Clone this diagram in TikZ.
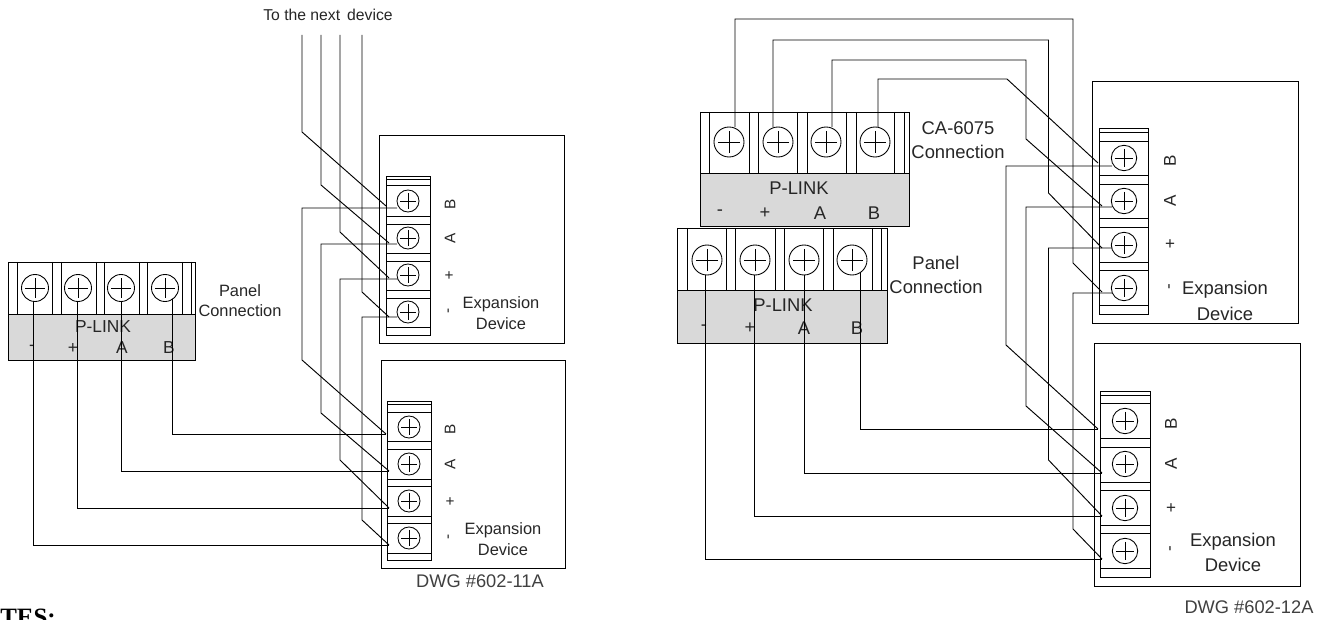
\documentclass[tikz,border=0pt]{standalone}
\usepackage{fontspec}
\setmainfont{Liberation Sans}
\newfontfamily\notesfont{Liberation Serif}
\tikzset{
  wire/.style={line width=0.7pt,line join=miter},
  outline/.style={draw,line width=0.7pt},
  thin line/.style={line width=0.65pt},
  lbl/.style={inner sep=0pt,font=\fontsize{12.3}{14}\selectfont,text=black!85},
  lbig/.style={inner sep=0pt,font=\fontsize{13.8}{16}\selectfont,text=black!85},
  lmid/.style={inner sep=0pt,font=\fontsize{13}{15}\selectfont,text=black!85},
  side/.style={inner sep=0pt,rotate=90,font=\fontsize{11.5}{13}\selectfont,text=black!85},
  sidebig/.style={inner sep=0pt,rotate=90,font=\fontsize{12.8}{14}\selectfont,text=black!85},
  dwg/.style={inner sep=0pt,font=\fontsize{13.7}{16}\selectfont,text=black!75},
}
% name, x, y, radius
\newcommand{\myscrew}[4]{%
  \node[circle,draw,line width=0.65pt,fill=white,inner sep=0pt,minimum size=#4*1.5pt] (#1) at (#2,#3) {};
  \draw[line width=0.55pt] (#2-#4*0.72,#3) -- (#2+#4*0.72,#3) (#2,#3-#4*0.72) -- (#2,#3+#4*0.72);}
\begin{document}
\begin{tikzpicture}[x=0.75pt,y=-0.75pt]
\useasboundingbox (0,0) rectangle (1328,620);
\clip (0,0) rectangle (1328,620);

% ---------- connector blocks ----------
% left panel
\draw[outline] (8,262) rectangle (195,314);
\fill[black!15] (8,314) rectangle (195,360);
\draw[outline] (8,314) rectangle (195,360);
\foreach \a/\b in {8/17,52/61,96/104,139/147,182/191}
  \draw[thin line] (\a,262) -- (\a,314) (\b,262) -- (\b,314);
\myscrew{pa}{35}{288}{13.5}\myscrew{pb}{78}{288}{13.5}\myscrew{pc}{121}{288}{13.5}\myscrew{pd}{165}{288}{13.5}
\node[lmid] (lplink) at (103,327) {P-LINK};
\node[lmid] (lm) at (32,348) {-};
\node[lmid] (lp) at (73,348) {+};
\node[lmid] (la) at (122,348) {A};
\node[lmid] (lb) at (169,348) {B};
\node[lbl] (lpanel1) at (240,291) {Panel};
\node[lbl] (lpanel2) at (240,311) {Connection};

% CA-6075
\draw[outline] (700,112) rectangle (909,173);
\fill[black!15] (700,173) rectangle (909,226);
\draw[outline] (700,173) rectangle (909,226);
\foreach \a/\b in {700/709,749/758,797/807,846/856,894/904}
  \draw[thin line] (\a,112) -- (\a,173) (\b,112) -- (\b,173);
\myscrew{ca}{729}{142}{15}\myscrew{cb}{778}{142}{15}\myscrew{cc}{826}{142}{15}\myscrew{cd}{875}{142}{15}
\node[lbig] (cplink) at (799,188) {P-LINK};
\node[lbig] (cm) at (720,213) {-};
\node[lbig] (cp) at (765,213) {+};
\node[lbig] (ca2) at (820,213) {A};
\node[lbig] (cb2) at (874,213) {B};
\node[lbig] (clab1) at (958,128) {CA-6075};
\node[lbig] (clab2) at (958,152) {Connection};

% right panel
\draw[outline] (677,228) rectangle (887,290);
\fill[black!15] (677,290) rectangle (887,343);
\draw[outline] (677,290) rectangle (887,343);
\foreach \a/\b in {677/687,726/735,775/784,823/833,872/881}
  \draw[thin line] (\a,228) -- (\a,290) (\b,228) -- (\b,290);
\myscrew{ra}{707}{260}{15}\myscrew{rb}{755}{260}{15}\myscrew{rc}{804}{260}{15}\myscrew{rd}{852}{260}{15}
\node[lbig] (rplink) at (783,305) {P-LINK};
\node[lbig] (rm) at (704,328) {-};
\node[lbig] (rp) at (750,328) {+};
\node[lbig] (ra2) at (804,328) {A};
\node[lbig] (rb2) at (857,328) {B};
\node[lbig] (rlab1) at (936,263) {Panel};
\node[lbig] (rlab2) at (936,287) {Connection};

% ---------- expansion devices ----------
% device 1 (upper left)
\draw[outline] (379,135) rectangle (564,343);
\draw[outline] (386,176) rectangle (430,335);
\foreach \y in {179,185,216,224,253,261,290,298,327}
  \draw[thin line] (386,\y) -- (430,\y);
\myscrew{da}{408}{201}{11}\myscrew{db}{408}{238}{11}\myscrew{dc}{408}{275}{11}\myscrew{dd}{408}{312}{11}
\node[side] (dB) at (450,204) {B};
\node[side] (dA) at (450,238) {A};
\node[side,rotate=-90] (dP) at (449,276) {+};
\node[side] (dM) at (450,311) {-};
\node[lbl] (dx) at (501,304) {Expansion};
\node[lbl] (dy) at (501,324) {Device};

% device 2 (lower left)
\draw[outline] (381,360) rectangle (565,568);
\draw[outline] (387,401) rectangle (431,560);
\foreach \y in {404,412,441,449,479,486,516,523,553}
  \draw[thin line] (387,\y) -- (431,\y);
\myscrew{ea}{409}{427}{11}\myscrew{eb}{409}{464}{11}\myscrew{ec}{409}{501}{11}\myscrew{ed}{409}{538}{11}
\node[side] (eB) at (450,429) {B};
\node[side] (eA) at (450,464) {A};
\node[side,rotate=-90] (eP) at (450,502) {+};
\node[side] (eM) at (450,537) {-};
\node[lbl] (ex) at (503,530) {Expansion};
\node[lbl] (ey) at (503,550) {Device};
\node[dwg] (dwg1) at (480,581) {DWG \#602-11A};

% device 3 (upper right)
\draw[outline] (1092,81) rectangle (1298,323);
\draw[outline] (1099,128) rectangle (1148,314);
\foreach \y in {132,141,175,184,218,227,262,270,305}
  \draw[thin line] (1099,\y) -- (1148,\y);
\myscrew{fa}{1124}{158}{12.7}\myscrew{fb}{1124}{201}{12.7}\myscrew{fc}{1124}{245}{12.7}\myscrew{fd}{1124}{288}{12.7}
\node[sidebig] (fB) at (1170,161) {B};
\node[sidebig] (fA) at (1170,201) {A};
\node[sidebig,rotate=-90] (fP) at (1170,245) {+};
\node[sidebig] (fM) at (1171,287) {-};
\node[lbig] (fx) at (1225,290) {Expansion};
\node[lbig] (fy) at (1225,314) {Device};

% device 4 (lower right)
\draw[outline] (1094,343) rectangle (1300,586);
\draw[outline] (1100,391) rectangle (1150,577);
\foreach \y in {395,403,438,447,482,490,525,533,568}
  \draw[thin line] (1100,\y) -- (1150,\y);
\myscrew{ga}{1125}{421}{12.7}\myscrew{gb}{1125}{464}{12.7}\myscrew{gc}{1125}{508}{12.7}\myscrew{gd}{1125}{551}{12.7}
\node[sidebig] (gB) at (1171,424) {B};
\node[sidebig] (gA) at (1171,464) {A};
\node[sidebig,rotate=-90] (gP) at (1171,509) {+};
\node[sidebig] (gM) at (1172,549) {-};
\node[lbig] (gx) at (1233,542) {Expansion};
\node[lbig] (gy) at (1233,565) {Device};
\node[dwg] (dwg2) at (1249,607) {DWG \#602-12A};

% ---------- free texts ----------
\node[inner sep=0pt,font=\fontsize{11.8}{14}\selectfont,text=black!85] (next) at (328,15) {To the next\, device};
\node[inner sep=0pt,anchor=base west,font=\notesfont\bfseries\fontsize{18.7}{20}\selectfont] (notes) at (0,625) {TES:};

% ---------- wire ends ----------
\coordinate (t1) at (302,35);\coordinate (t2) at (321,35);\coordinate (t3) at (340,35);\coordinate (t4) at (362,35);
\coordinate (d1) at (386,206);\coordinate (d2) at (389,243);\coordinate (d3) at (389,278);\coordinate (d4) at (389,317);
\coordinate (e1) at (386,434);\coordinate (e2) at (389,471);\coordinate (e3) at (389,508);\coordinate (e4) at (389,545);
\coordinate (f1) at (1098,163);\coordinate (f2) at (1102,206);\coordinate (f3) at (1102,248);\coordinate (f4) at (1102,292);
\coordinate (g1) at (1098,429);\coordinate (g2) at (1102,473);\coordinate (g3) at (1102,516);\coordinate (g4) at (1102,559);

% ---------- wires, left ----------
\draw[wire] (33,301) -- (33,545) -- (e4);
\draw[wire] (77,301) -- (77,508) -- (e3);
\draw[wire] (121,301) -- (121,471) -- (e2);
\draw[wire] (172,299) -- (172,434) -- (e1);
\draw[wire] (t1) -- (302,132) -- (d1);
\draw[wire] (t2) -- (321,185) -- (d2);
\draw[wire] (t3) -- (340,232) -- (d3);
\draw[wire] (t4) -- (362,292) -- (d4);
\draw[wire] (397,208) -- (302,208) -- (302,360) -- (e1);
\draw[wire] (397,244) -- (321,244) -- (321,413) -- (e2);
\draw[wire] (397,279) -- (340,279) -- (340,460) -- (e3);
\draw[wire] (397,317) -- (362,317) -- (362,520) -- (e4);

% ---------- wires, right ----------
\draw[wire] (705,275) -- (705,559) -- (g4);
\draw[wire] (754,275) -- (754,516) -- (g3);
\draw[wire] (804,275) -- (804,473) -- (g2);
\draw[wire] (860,272) -- (860,429) -- (g1);
\draw[wire] (735,127) -- (735,19) -- (1073,19) -- (1073,263) -- (f4);
\draw[wire] (773,127) -- (773,40) -- (1048.5,40) -- (1048.5,193) -- (f3);
\draw[wire] (832,127) -- (832,60) -- (1026,60) -- (1026,139) -- (f2);
\draw[wire] (878,127) -- (878,79) -- (1007,79) -- (f1);
\draw[wire] (1112,166) -- (1006,166) -- (1006,345) -- (g1);
\draw[wire] (1112,207) -- (1026,207) -- (1026,406) -- (g2);
\draw[wire] (1112,248) -- (1048.5,248) -- (1048.5,460) -- (g3);
\draw[wire] (1112,293) -- (1073,293) -- (1073,529) -- (g4);
\end{tikzpicture}
\end{document}
